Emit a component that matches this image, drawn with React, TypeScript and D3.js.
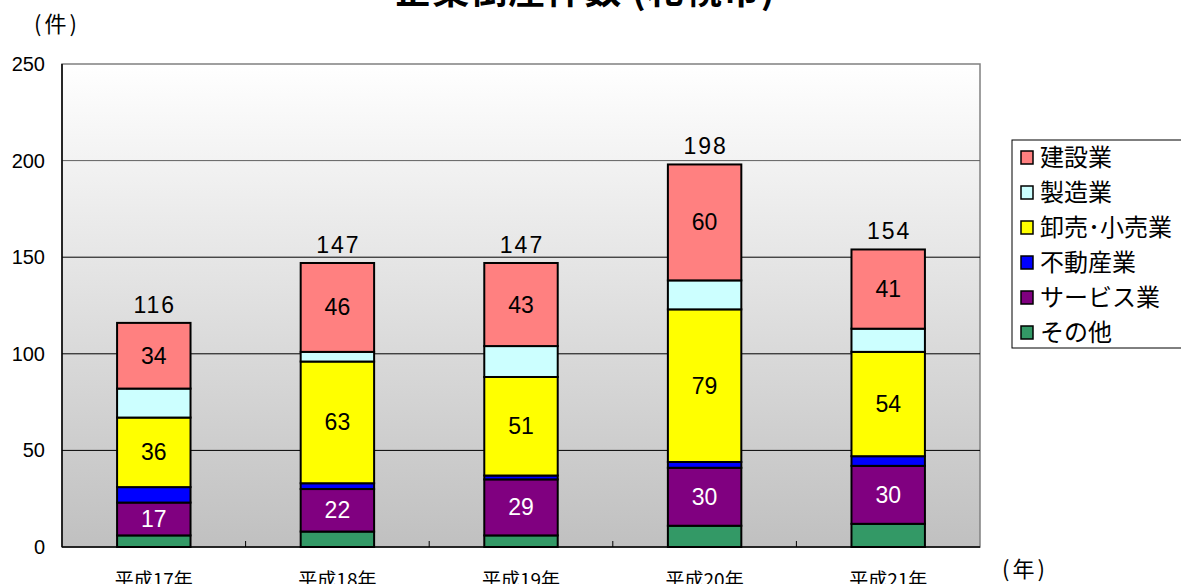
import React from "react";
import * as d3 from "d3";

const years = ["平成17年", "平成18年", "平成19年", "平成20年", "平成21年"];
const seriesNames = ["その他", "サービス業", "不動産業", "卸売･小売業", "製造業", "建設業"];
const sonota = [6, 8, 6, 11, 12];
const service = [17, 22, 29, 30, 30];
const fudosan = [8, 3, 2, 3, 5];
const oroshi = [36, 63, 51, 79, 54];
const seizo = [15, 5, 16, 15, 12];
const kensetsu = [34, 46, 43, 60, 41];
const totals = [116, 147, 147, 198, 154];
const yTicks = [0, 50, 100, 150, 200, 250];
const colors = ["#339966", "#800080", "#0000ff", "#ffff00", "#ccffff", "#ff8080"];
const showLabel = [false, true, false, true, false, true];
const labelColor = ["#000", "#fff", "#000", "#000", "#000", "#000"];
const legendOrder = [5, 4, 3, 2, 1, 0];

export default function App() {
  const W = 1181, H = 584;
  const left = 62, right = 980, top = 64, bottom = 547;
  const x = d3.scaleBand<string>().domain(years).range([left, right]).paddingInner(0).paddingOuter(0);
  const y = d3.scaleLinear().domain([0, 250]).range([bottom, top]);
  const barW = x.bandwidth() * 0.4;
  const seriesData = [sonota, service, fudosan, oroshi, seizo, kensetsu];
  const table = years.map((yr, i) => {
    const o: any = { year: yr };
    seriesNames.forEach((s, k) => (o[s] = seriesData[k][i]));
    return o;
  });
  const stacked = d3.stack().keys(seriesNames)(table);
  const jp = "'Noto Sans CJK JP', 'Liberation Sans', sans-serif";
  const num = "'Liberation Sans', Arial, sans-serif";

  return (
    <svg width={W} height={H} style={{ position: "absolute", left: 0, top: 0, background: "#fff" }}>
      <defs>
        <linearGradient id="bg" x1="0" y1="0" x2="0" y2="1">
          <stop offset="0" stopColor="#ffffff" />
          <stop offset="1" stopColor="#c0c0c0" />
        </linearGradient>
      </defs>
      <text x={585} y={4} textAnchor="middle" fontFamily={jp} fontWeight="bold" fontSize={37} letterSpacing={1}>企業倒産件数 (札幌市)</text>
      <rect x={left} y={top} width={right - left} height={bottom - top} fill="url(#bg)" stroke="#808080" strokeWidth={1.5} />
      {yTicks.filter(t => t > 0 && t < 250).map(t => (
        <line key={t} x1={left} x2={right} y1={y(t)} y2={y(t)} stroke={t === 200 ? "#606060" : "#000"} strokeWidth={1} />
      ))}
      <line x1={left} x2={left} y1={top} y2={bottom} stroke="#000" strokeWidth={1.5} />
      <line x1={left} x2={right} y1={bottom} y2={bottom} stroke="#000" strokeWidth={1.5} />
      {years.slice(1).map(yr => (
        <line key={yr} x1={x(yr)!} x2={x(yr)!} y1={bottom} y2={bottom - 6} stroke="#000" strokeWidth={1} />
      ))}
      {yTicks.map(t => (
        <text key={t} x={45} y={y(t) + 7} textAnchor="end" fontFamily={num} fontSize={20}>{t}</text>
      ))}
      <text x={57} y={32} textAnchor="middle" fontFamily={jp} fontSize={22} letterSpacing={3}>(件)</text>
      <text x={1025} y={577} textAnchor="middle" fontFamily={jp} fontSize={22} letterSpacing={3}>(年)</text>
      {stacked.map((s, k) => (
        <g key={s.key}>
          {s.map((d, i) => {
            const cx = x(years[i])! + x.bandwidth() / 2;
            const y0 = y(d[0]), y1 = y(d[1]);
            return (
              <g key={i}>
                <rect x={cx - barW / 2} y={y1} width={barW} height={y0 - y1} fill={colors[k]} stroke="#000" strokeWidth={2} />
                {showLabel[k] && (
                  <text x={cx} y={(y0 + y1) / 2 + 8} textAnchor="middle" fontFamily={num} fontSize={23} fill={labelColor[k]}>{d[1] - d[0]}</text>
                )}
              </g>
            );
          })}
        </g>
      ))}
      {totals.map((t, i) => (
        <text key={i} x={x(years[i])! + x.bandwidth() / 2 + 1} y={y(t) - 10} textAnchor="middle" fontFamily={num} fontSize={23} letterSpacing={2}>{t}</text>
      ))}
      {years.map(yr => (
        <text key={yr} x={x(yr)! + x.bandwidth() / 2} y={587} textAnchor="middle" fontFamily={jp} fontSize={19}>{yr}</text>
      ))}
      <rect x={1012} y={140} width={180} height={208} fill="#fff" stroke="#000" strokeWidth={1} />
      {legendOrder.map((k, j) => (
        <g key={k} transform={`translate(1021, ${151 + j * 35})`}>
          <rect x={0} y={0} width={12} height={13} fill={colors[k]} stroke="#000" strokeWidth={1.5} />
          <text x={19} y={15} fontFamily={jp} fontSize={24}>{seriesNames[k]}</text>
        </g>
      ))}
    </svg>
  );
}
